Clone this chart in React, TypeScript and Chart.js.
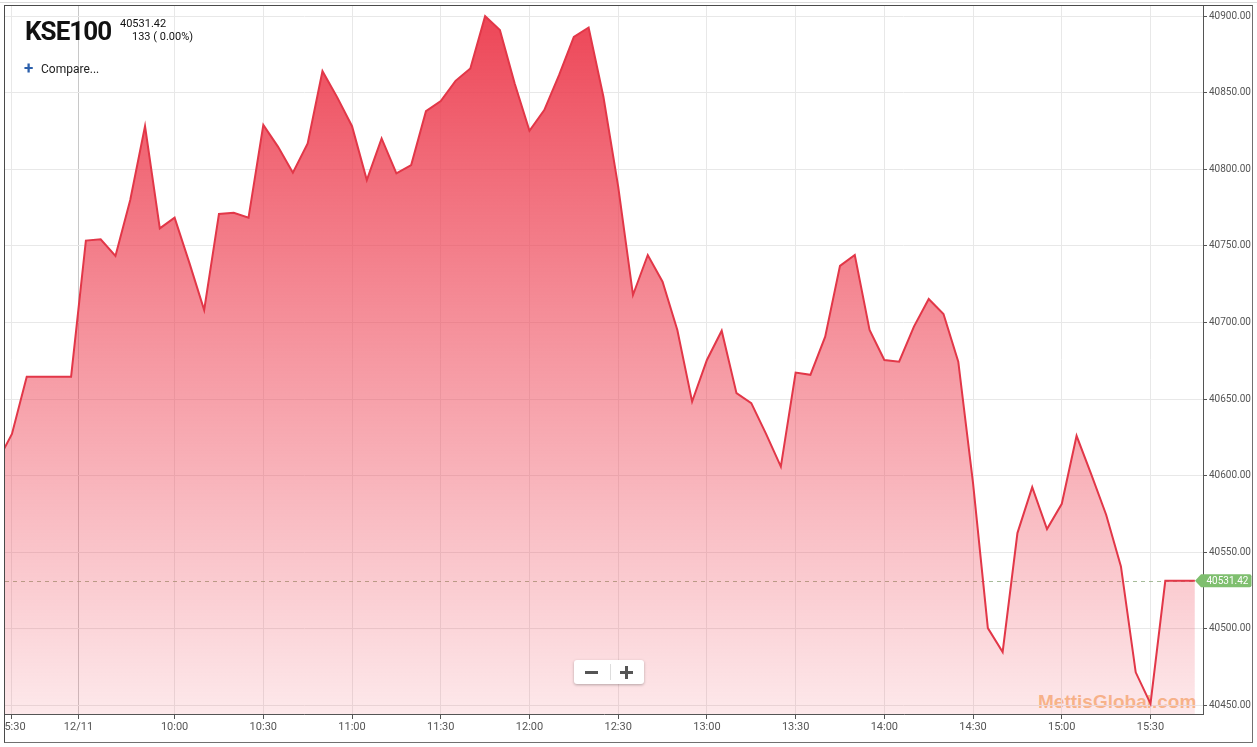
import React, { useEffect, useRef } from "react";
import { Chart, registerables } from "chart.js";

Chart.register(...registerables);

// ---- data ----
const FIRST_SLOT = -1; // 5-minute slots; slot 0 = previous session 15:30, slot 5 = 12/11 09:30
const prices: number[] = [
  40609, 40627.3, 40664.7, 40664.7, 40664.7, 40664.7,
  40753.5, 40754.4, 40743.5, 40780, 40828.3, 40761.5, 40768.5, 40739, 40708.2,
  40770.9, 40771.7, 40768.5, 40829, 40814.7, 40797.8, 40817, 40864.1, 40847, 40828.2,
  40793, 40820.2, 40797.4, 40802.8, 40838, 40844.6, 40857.8, 40865.9, 40900, 40890.9,
  40856.1, 40825.2, 40838.7, 40861.5, 40886.5, 40892.6, 40847.4, 40788.7, 40718,
  40744.1, 40726.7, 40695.2, 40648.4, 40675.6, 40694.7, 40653.9, 40647.4, 40627.4, 40606,
  40667.4, 40665.9, 40690.8, 40737, 40744.1, 40695.2, 40675.6, 40674.5, 40697.4, 40715.4,
  40705.6, 40674.5, 40595, 40500.6, 40485, 40562.6, 40592.6, 40565.2, 40581.7, 40626.1,
  40600.7, 40574.6, 40540.8, 40471.7, 40451.3, 40531.42, 40531.42, 40531.42,
];
const tickSlots: number[] = [0, 4.5, 11, 17, 23, 29, 35, 41, 47, 53, 59, 65, 71, 77];
const tickLabels: string[] = [
  "15:30", "12/11", "10:00", "10:30", "11:00", "11:30", "12:00",
  "12:30", "13:00", "13:30", "14:00", "14:30", "15:00", "15:30",
];
const priceTicks: number[] = [40450, 40500, 40550, 40600, 40650, 40700, 40750, 40800, 40850, 40900];
const symbolName = "KSE100";
const lastPrice = 40531.42;
const changeText = "133 ( 0.00%)";
const slotMin = -0.47;
const slotMax = 80.55;
const priceMin = 40444.5;
const priceMax = 40907.3;

const lastPricePlugin = {
  id: "lastPrice",
  beforeDatasetsDraw(chart: any) {
    const { ctx, chartArea } = chart;
    const y = Math.round(chart.scales.y.getPixelForValue(lastPrice)) + 0.5;
    ctx.save();
    ctx.strokeStyle = "rgba(150,175,135,0.85)";
    ctx.lineWidth = 1;
    ctx.setLineDash([4, 4]);
    ctx.beginPath();
    ctx.moveTo(chartArea.left, y);
    ctx.lineTo(chartArea.right, y);
    ctx.stroke();
    ctx.restore();
  },
  afterDraw(chart: any) {
    const { ctx, chartArea } = chart;
    const y = chart.scales.y.getPixelForValue(lastPrice);
    const tip = chartArea.right - 8;
    const x0 = chartArea.right - 2;
    const x1 = chartArea.right + 48.5;
    const h = 13;
    const r = 2;
    ctx.save();
    ctx.fillStyle = "#7fbf6f";
    ctx.beginPath();
    ctx.moveTo(tip, y);
    ctx.lineTo(x0, y - h / 2);
    ctx.lineTo(x1 - r, y - h / 2);
    ctx.quadraticCurveTo(x1, y - h / 2, x1, y - h / 2 + r);
    ctx.lineTo(x1, y + h / 2 - r);
    ctx.quadraticCurveTo(x1, y + h / 2, x1 - r, y + h / 2);
    ctx.lineTo(x0, y + h / 2);
    ctx.closePath();
    ctx.fill();
    ctx.fillStyle = "#ffffff";
    ctx.font = "10px Roboto";
    ctx.textAlign = "left";
    ctx.textBaseline = "middle";
    ctx.fillText(lastPrice.toFixed(2), chartArea.right + 3.5, y + 0.5);
    ctx.restore();
  },
};

function PriceChart() {
  const ref = useRef<HTMLCanvasElement | null>(null);
  useEffect(() => {
    if (!ref.current) return;
    Chart.defaults.font.family = "Roboto";
    const points = prices.map((v, i) => ({ x: FIRST_SLOT + i, y: v }));
    const chart = new Chart(ref.current, {
      type: "line",
      data: {
        datasets: [
          {
            data: points,
            borderColor: "#e23748",
            borderWidth: 2,
            pointRadius: 0,
            tension: 0,
            fill: "start",
            clip: 0,
            backgroundColor: (c: any) => {
              const area = c.chart.chartArea;
              if (!area) return "rgba(236,62,80,0.5)";
              const g = c.chart.ctx.createLinearGradient(0, area.top, 0, area.bottom);
              g.addColorStop(0, "rgba(236,60,78,0.96)");
              g.addColorStop(1, "rgba(240,70,88,0.12)");
              return g;
            },
          },
        ],
      },
      options: {
        animation: false,
        responsive: false,
        maintainAspectRatio: false,
        layout: { padding: { left: 0, top: 5, right: 4, bottom: 4 } },
        plugins: { legend: { display: false }, tooltip: { enabled: false } },
        scales: {
          x: {
            type: "linear",
            min: slotMin,
            max: slotMax,
            afterBuildTicks: (s: any) => {
              s.ticks = tickSlots.map((v) => ({ value: v }));
            },
            afterFit: (s: any) => {
              s.height = 29;
              s.paddingLeft = 0;
              s.paddingRight = 0;
            },
            ticks: {
              autoSkip: false,
              maxRotation: 0,
              minRotation: 0,
              padding: 2,
              color: "#555",
              font: { family: "Roboto", size: 11 },
              callback: (_v: any, i: number) => tickLabels[i],
            },
            grid: {
              color: (c: any) => (c.tick && c.tick.value === 4.5 ? "#c8c8c8" : "#e8e8e8"),
              tickColor: "#555",
              tickLength: 5,
              lineWidth: 1,
            },
            border: { display: true, color: "#555", width: 1 },
          },
          y: {
            type: "linear",
            position: "right",
            min: priceMin,
            max: priceMax,
            afterBuildTicks: (s: any) => {
              s.ticks = priceTicks.map((v) => ({ value: v }));
            },
            afterFit: (s: any) => {
              s.width = 50;
              s.paddingTop = 0;
              s.paddingBottom = 0;
            },
            ticks: {
              padding: 2,
              color: "#555",
              font: { family: "Roboto", size: 10 },
              callback: (v: any) => Number(v).toFixed(2),
            },
            grid: { color: "#e8e8e8", tickColor: "#555", tickLength: 4 },
            border: { display: true, color: "#555", width: 1 },
          },
        },
      },
      plugins: [lastPricePlugin],
    } as any);
    return () => chart.destroy();
  }, []);
  return (
    <canvas
      ref={ref}
      width={1252}
      height={747}
      style={{ position: "absolute", left: 5, top: 0, width: 1252, height: 747, zIndex: 2 }}
    />
  );
}

export default function App() {
  const abs = { position: "absolute" as const };
  return (
    <div
      style={{
        position: "fixed",
        left: 0,
        top: 0,
        width: 1257,
        height: 747,
        background: "#fff",
        overflow: "hidden",
        fontFamily: "Roboto, sans-serif",
      }}
    >
      <div style={{ ...abs, left: 0, top: 2, width: 1257, height: 1, background: "#dadada" }} />
      <div
        style={{
          ...abs,
          left: 1038,
          top: 692,
          fontFamily: "'Liberation Sans', Arial, sans-serif",
          fontWeight: 700,
          fontSize: 19,
          lineHeight: "19px",
          color: "rgba(243,150,60,0.58)",
          whiteSpace: "nowrap",
          zIndex: 1,
        }}
      >
        MettisGlobal.com
      </div>
      <PriceChart />
      <div
        style={{
          ...abs,
          left: 4,
          top: 5,
          width: 1249,
          height: 738,
          boxSizing: "border-box",
          borderTop: "1px solid #4a4a4a",
          borderLeft: "1px solid #4a4a4a",
          borderRight: "1px solid #707070",
          borderBottom: "1px solid #707070",
          zIndex: 3,
          pointerEvents: "none",
        }}
      />
      <div
        style={{
          ...abs,
          left: 25,
          top: 17.5,
          fontSize: 26,
          lineHeight: "26px",
          fontWeight: 700,
          letterSpacing: -0.95,
          color: "#111",
          zIndex: 4,
          whiteSpace: "nowrap",
        }}
      >
        {symbolName}
      </div>
      <div style={{ ...abs, left: 120, top: 18.3, fontSize: 11, lineHeight: "11px", color: "#111", zIndex: 4 }}>
        {lastPrice.toFixed(2)}
      </div>
      <div style={{ ...abs, left: 132, top: 30.8, fontSize: 11, lineHeight: "11px", color: "#111", zIndex: 4, whiteSpace: "pre" }}>
        {changeText}
      </div>
      <div
        style={{ ...abs, left: 24, top: 60, fontSize: 17, lineHeight: "17px", fontWeight: 700, color: "#2b5fab", zIndex: 4 }}
      >
        +
      </div>
      <div style={{ ...abs, left: 41, top: 63.2, fontSize: 12, lineHeight: "12px", color: "#222", zIndex: 4 }}>
        Compare...
      </div>
      <div
        style={{
          ...abs,
          left: 574,
          top: 660,
          width: 70,
          height: 24,
          background: "#fff",
          borderRadius: 3,
          boxShadow: "0 1px 3px rgba(0,0,0,0.28)",
          zIndex: 4,
        }}
      >
        <div style={{ ...abs, left: 11, top: 10.5, width: 13, height: 3, background: "#555" }} />
        <div style={{ ...abs, left: 36, top: 4, width: 1, height: 16, background: "#ddd" }} />
        <div style={{ ...abs, left: 46, top: 10.5, width: 13, height: 3, background: "#555" }} />
        <div style={{ ...abs, left: 51, top: 5.5, width: 3, height: 13, background: "#555" }} />
      </div>
    </div>
  );
}
